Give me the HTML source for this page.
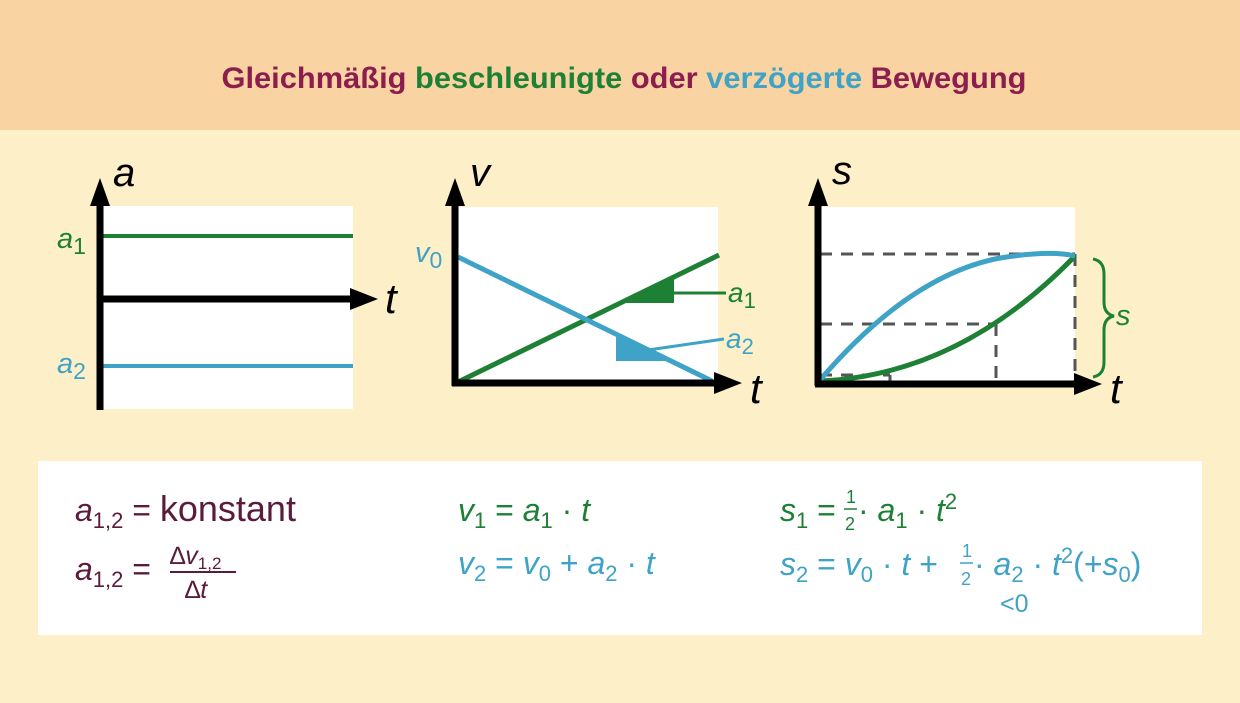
<!DOCTYPE html>
<html><head><meta charset="utf-8"><style>
body{margin:0;width:1240px;height:698px;overflow:hidden;background:#fdf0c8;font-family:"Liberation Sans",sans-serif}
</style></head><body>
<svg width="1240" height="698" viewBox="0 0 1240 698" xmlns="http://www.w3.org/2000/svg" font-family="Liberation Sans, DejaVu Sans, sans-serif">
<rect x="0" y="0" width="1240" height="130" fill="#f9d3a1"/>
<rect x="0" y="130" width="1240" height="568" fill="#fdf0c8"/>
<text x="624" y="88" text-anchor="middle" font-size="30" font-weight="bold" textLength="805" lengthAdjust="spacingAndGlyphs"><tspan fill="#8e1d4f">Gleichmäßig </tspan><tspan fill="#1d8035">beschleunigte </tspan><tspan fill="#8e1d4f">oder </tspan><tspan fill="#3ea3c6">verzögerte </tspan><tspan fill="#8e1d4f">Bewegung</tspan></text>

<!-- Graph 1 -->
<rect x="103" y="206" width="250" height="203" fill="#fff"/>
<line x1="353" y1="236" x2="103" y2="236" stroke="#1d8035" stroke-width="4"/>
<line x1="353" y1="366" x2="103" y2="366" stroke="#3ea3c6" stroke-width="4"/>
<line x1="100" y1="200" x2="100" y2="410" stroke="#000" stroke-width="7"/>
<polygon points="100,178 90,206 110,206" fill="#000"/>
<line x1="100" y1="299" x2="355" y2="299" stroke="#000" stroke-width="7"/>
<polygon points="378,299 350,288 350,310" fill="#000"/>
<text x="113" y="186" font-size="40" font-style="italic">a</text>
<text x="385" y="313" font-size="42" font-style="italic">t</text>
<text x="57" y="248" font-size="29" font-style="italic" fill="#1d8035">a<tspan font-style="normal" font-size="23" dy="6">1</tspan></text>
<text x="57" y="373" font-size="29" font-style="italic" fill="#3ea3c6">a<tspan font-style="normal" font-size="23" dy="6">2</tspan></text>

<!-- Graph 2 -->
<rect x="458" y="207" width="260" height="176" fill="#fff"/>
<line x1="458" y1="382" x2="719" y2="255" stroke="#1d8035" stroke-width="5"/>
<line x1="458" y1="257" x2="712" y2="381" stroke="#3ea3c6" stroke-width="5"/>
<polygon points="622,303 674,278 674,303" fill="#1d8035"/>
<line x1="674" y1="293" x2="726" y2="293" stroke="#1d8035" stroke-width="3"/>
<polygon points="616,337 616,361 668,361 648,350" fill="#3ea3c6"/>
<line x1="648" y1="350" x2="724" y2="339" stroke="#3ea3c6" stroke-width="3"/>
<line x1="455" y1="200" x2="455" y2="386" stroke="#000" stroke-width="7"/>
<polygon points="455,178 445,206 465,206" fill="#000"/>
<line x1="452" y1="383" x2="720" y2="383" stroke="#000" stroke-width="7"/>
<polygon points="742,383 714,372 714,394" fill="#000"/>
<text x="470" y="186" font-size="40" font-style="italic">v</text>
<text x="750" y="403" font-size="42" font-style="italic">t</text>
<text x="415" y="262" font-size="29" font-style="italic" fill="#3ea3c6">v<tspan font-style="normal" font-size="23" dy="6">0</tspan></text>
<text x="728" y="302" font-size="28" font-style="italic" fill="#1d8035">a<tspan font-style="normal" font-size="22" dy="6">1</tspan></text>
<text x="726" y="348" font-size="28" font-style="italic" fill="#3ea3c6">a<tspan font-style="normal" font-size="22" dy="6">2</tspan></text>

<!-- Graph 3 -->
<rect x="818" y="207" width="257" height="176" fill="#fff"/>
<g stroke="#555" stroke-width="3" stroke-dasharray="12,9" fill="none">
<line x1="820" y1="254" x2="1075" y2="254"/>
<line x1="820" y1="324" x2="996" y2="324"/>
<line x1="820" y1="375" x2="890" y2="375"/>
<line x1="1075" y1="254" x2="1075" y2="383"/>
<line x1="996" y1="324" x2="996" y2="383"/>
<line x1="890" y1="375" x2="890" y2="383"/>
</g>
<path d="M820,381 Q960,375 1075,256" stroke="#1d8035" stroke-width="5" fill="none"/>
<path d="M820,380 Q910,275 1000,258 Q1050,250 1075,256" stroke="#3ea3c6" stroke-width="5" fill="none"/>
<line x1="818" y1="200" x2="818" y2="386" stroke="#000" stroke-width="7"/>
<polygon points="818,178 808,206 828,206" fill="#000"/>
<line x1="815" y1="384" x2="1080" y2="384" stroke="#000" stroke-width="7"/>
<polygon points="1102,384 1074,373 1074,395" fill="#000"/>
<text x="832" y="184" font-size="40" font-style="italic">s</text>
<text x="1110" y="403" font-size="42" font-style="italic">t</text>
<path d="M1093,259 Q1104,261 1104,274 L1104,302 Q1104,314 1114,316 Q1104,318 1104,330 L1104,362 Q1104,375 1093,377" stroke="#1d8035" stroke-width="3" fill="none"/>
<text x="1116" y="325" font-size="29" font-style="italic" fill="#1d8035">s</text>

<!-- formulas -->
<rect x="38" y="461" width="1164" height="174" fill="#fff"/>
<g font-size="32" fill="#5b1b3c">
<text x="75" y="521"><tspan font-style="italic">a</tspan><tspan font-size="22" dy="7">1,2</tspan><tspan dy="-7"> = </tspan><tspan font-size="36">konstant</tspan></text>
<text x="75" y="580"><tspan font-style="italic">a</tspan><tspan font-size="22" dy="7">1,2</tspan><tspan dy="-7"> =</tspan></text>
<text x="170" y="564" font-size="25">∆<tspan font-style="italic">v</tspan><tspan font-size="17" dy="5">1,2</tspan></text>
<line x1="170" y1="572" x2="236" y2="572" stroke="#5b1b3c" stroke-width="2"/>
<text x="185" y="598" font-size="25">∆<tspan font-style="italic">t</tspan></text>
</g>
<g font-size="32" fill="#1d8035">
<text x="458" y="521"><tspan font-style="italic">v</tspan><tspan font-size="22" dy="7">1</tspan><tspan dy="-7">  =  </tspan><tspan font-style="italic">a</tspan><tspan font-size="22" dy="7">1</tspan><tspan dy="-7"> · </tspan><tspan font-style="italic">t</tspan></text>
<text x="780" y="521"><tspan font-style="italic">s</tspan><tspan font-size="22" dy="7">1</tspan><tspan dy="-7"> = </tspan></text>
<text x="846" y="503" font-size="18">1</text>
<line x1="844" y1="509" x2="857" y2="509" stroke="#1d8035" stroke-width="1.5"/>
<text x="845" y="530" font-size="18">2</text>
<text x="858" y="521"> · <tspan font-style="italic">a</tspan><tspan font-size="22" dy="7">1</tspan><tspan dy="-7"> · </tspan><tspan font-style="italic">t</tspan><tspan font-size="22" dy="-12">2</tspan></text>
</g>
<g font-size="32" fill="#3ea3c6">
<text x="458" y="574"><tspan font-style="italic">v</tspan><tspan font-size="22" dy="7">2</tspan><tspan dy="-7"> = </tspan><tspan font-style="italic">v</tspan><tspan font-size="22" dy="7">0</tspan><tspan dy="-7"> + </tspan><tspan font-style="italic">a</tspan><tspan font-size="22" dy="7">2</tspan><tspan dy="-7"> · </tspan><tspan font-style="italic">t</tspan></text>
<text x="780" y="575"><tspan font-style="italic">s</tspan><tspan font-size="22" dy="7">2</tspan><tspan dy="-7"> = </tspan><tspan font-style="italic">v</tspan><tspan font-size="22" dy="7">0</tspan><tspan dy="-7"> · </tspan><tspan font-style="italic">t</tspan><tspan> +</tspan></text>
<text x="962" y="557" font-size="18">1</text>
<line x1="960" y1="563" x2="973" y2="563" stroke="#3ea3c6" stroke-width="1.5"/>
<text x="961" y="585" font-size="18">2</text>
<text x="974" y="575"> · <tspan font-style="italic">a</tspan><tspan font-size="22" dy="7">2</tspan><tspan dy="-7"> · </tspan><tspan font-style="italic">t</tspan><tspan font-size="22" dy="-12">2</tspan><tspan dy="12">(+</tspan><tspan font-style="italic">s</tspan><tspan font-size="22" dy="7">0</tspan><tspan dy="-7">)</tspan></text>
<text x="1000" y="612" font-size="25">&lt;0</text>
</g>
</svg>
</body></html>
